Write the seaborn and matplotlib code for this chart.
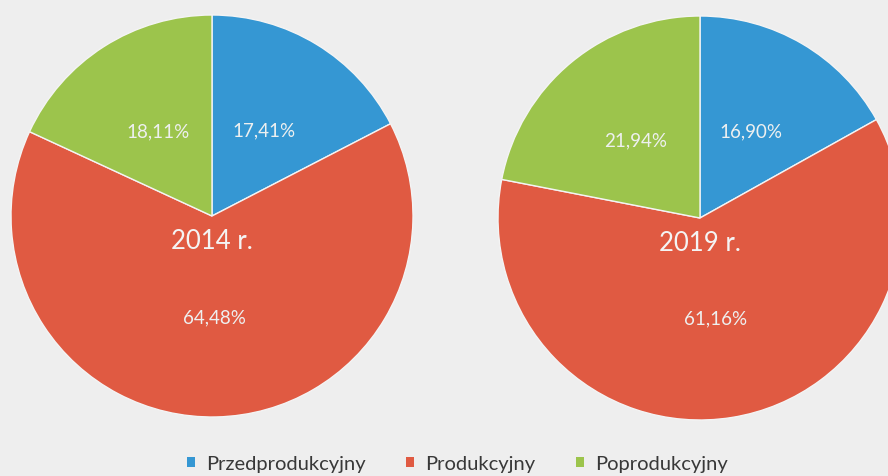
import matplotlib
matplotlib.use("Agg")
import matplotlib.pyplot as plt
import seaborn as sns
from matplotlib.patches import Patch

categories = ["Przedprodukcyjny", "Produkcyjny", "Poprodukcyjny"]
values_2014 = [17.41, 64.48, 18.11]
values_2019 = [16.90, 61.16, 21.94]
years = ["2014 r.", "2019 r."]
colors = ["#3597d3", "#e05a42", "#9cc44c"]

sns.set_theme(style="white")
plt.rcParams['font.family'] = ['Lato', 'DejaVu Sans']

W, H = 888, 477
fig = plt.figure(figsize=(W / 100, H / 100), dpi=100)
fig.patch.set_facecolor("#eeeeee")
ax = fig.add_axes([0, 0, 1, 1])
ax.set_facecolor("#eeeeee")

pal = sns.color_palette(colors)

def fmt(p):
    return f"{p:.2f}%".replace(".", ",")

pies = [
    (values_2014, (212, -217), 201),
    (values_2019, (700, -219), 202),
]
for (vals, center, r), year in zip(pies, years):
    ax.pie(
        vals, colors=pal, startangle=90, counterclock=False,
        center=center, radius=r, autopct=fmt, pctdistance=0.5,
        wedgeprops=dict(edgecolor="#f4f4f4", linewidth=1.0),
        textprops=dict(color="#eef0f0", fontsize=13.5),
    )
    ax.text(center[0], center[1] - 25, year, ha="center", va="center",
            color="#f4f4f4", fontsize=18.5)

ax.set_xlim(0, W)
ax.set_ylim(-H, 0)
ax.set_aspect("equal")
ax.axis("off")

handles = [Patch(facecolor=c, edgecolor="none") for c in colors]
fig.legend(handles, categories, loc="center", bbox_to_anchor=(0.515, 1 - 465 / H),
           ncol=3, frameon=False, fontsize=14.5, handlelength=0.4, handleheight=0.4,
           handletextpad=0.55, columnspacing=2.0, labelcolor="#383838")

fig.savefig("out.png", dpi=100, facecolor=fig.get_facecolor())
